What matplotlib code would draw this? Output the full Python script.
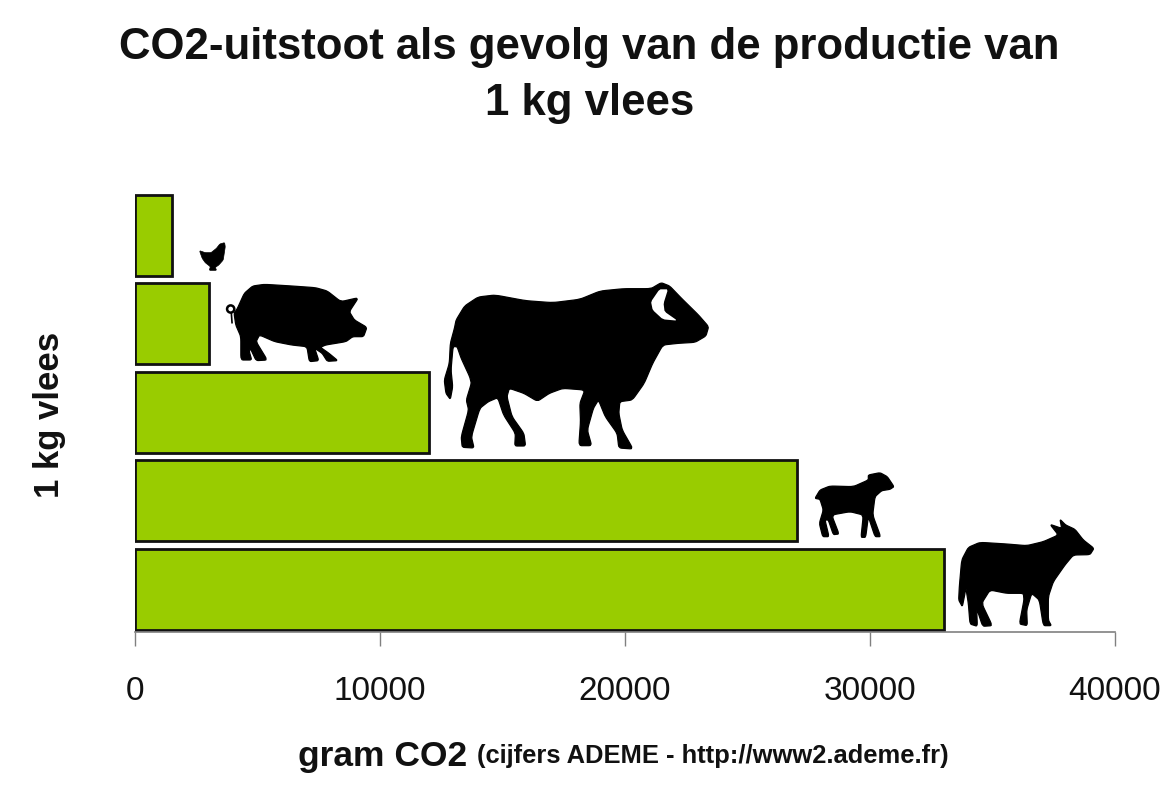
import matplotlib
matplotlib.use('Agg')
import matplotlib.pyplot as plt
from matplotlib.patches import Circle, Polygon
import numpy as np

#Data
waarden = [33000, 27000, 12000, 3000, 1500]  #koe, schaap, rund, varken, kip
xticks = [0, 10000, 20000, 30000, 40000]

W, H = 1171, 790

plt.rcParams['font.family'] = ['Liberation Sans', 'DejaVu Sans']

fig = plt.figure(figsize=(W / 100, H / 100), dpi=100)

    #Bars
ax = fig.add_axes([135 / W, (H - 632) / H, 980 / W, 442 / H])
pitch = 88.5
ax.barh(range(len(waarden)), waarden, height=81 / pitch, color='#99CC00',
        edgecolor='#111111', linewidth=2)
ax.set_xlim(0, 40000)
ax.set_ylim(-42.8 / pitch, 399.2 / pitch)
for s in ['top', 'left', 'right']:
    ax.spines[s].set_visible(False)
ax.spines['bottom'].set_color('#808080')
ax.spines['bottom'].set_linewidth(1.2)
ax.set_yticks([])
ax.set_xticks(xticks)
ax.tick_params(axis='x', length=10, width=1, color='#808080', pad=22,
               labelsize=24, labelcolor='#111111')

    #Overlay in pixels, for the silhouettes
ov = fig.add_axes([0, 0, 1, 1])
ov.set_xlim(0, W)
ov.set_ylim(H, 0)
ov.axis('off')
ov.patch.set_alpha(0)


def smooth(pts, n=2):
    #light corner cutting so the outlines are not too angular
    p = np.array(pts, dtype=float)
    for _ in range(n):
        q = np.roll(p, -1, axis=0)
        p = np.column_stack([0.88 * p + 0.12 * q, 0.12 * p + 0.88 * q]).reshape(-1, 2)
    return p


def shape(pts, ox, oy, sx=3.0, color='black', n=2, lw=0.9):
    p = smooth(pts, n) / [sx, 3.0] + [ox, oy]
    ov.add_patch(Polygon(p, closed=True, fc=color, ec=color, lw=lw, joinstyle='round'))


bull = [(780, 295), (768, 340), (765, 400), (750, 450), (755, 490), (768, 508), (775, 470),
        (770, 420), (776, 350), (788, 350), (800, 385), (825, 440), (830, 460), (815, 510),
        (822, 540), (800, 620), (803, 652), (838, 654), (830, 620), (855, 535), (880, 515),
        (908, 503), (925, 555), (960, 610), (958, 648), (990, 648), (985, 610), (950, 560),
        (935, 500), (942, 475), (985, 490), (1025, 514), (1060, 490), (1100, 475), (1165, 480),
        (1150, 520), (1152, 575), (1147, 647), (1185, 647), (1172, 600), (1190, 535), (1205, 510),
        (1225, 560), (1260, 610), (1265, 654), (1307, 657), (1275, 600), (1265, 550), (1268, 515),
        (1305, 510), (1340, 460), (1365, 400), (1395, 345), (1440, 340), (1490, 337), (1522, 318),
        (1530, 290), (1500, 255), (1450, 205), (1415, 168), (1390, 158), (1360, 176), (1280, 176),
        (1210, 183), (1150, 208), (1070, 218), (990, 212), (900, 195), (850, 201), (810, 228),
        (785, 270)]
horn = [(1385, 178), (1410, 178), (1397, 220), (1400, 245), (1438, 272), (1395, 268),
        (1365, 240), (1360, 215)]
pig = [(140, 235), (160, 190), (185, 168), (220, 163), (300, 168), (370, 173), (405, 183),
       (445, 215), (497, 203), (470, 245), (485, 270), (522, 292), (512, 320), (480, 320),
       (460, 335), (400, 345), (385, 352), (410, 370), (436, 392), (405, 394), (390, 370),
       (368, 355), (380, 392), (352, 395), (345, 350), (300, 345), (250, 335), (205, 315),
       (195, 335), (228, 390), (195, 392), (178, 355), (175, 365), (182, 390), (150, 390),
       (150, 320), (135, 285), (130, 250)]
chicken = [(28, 62), (45, 68), (62, 68), (78, 55), (88, 42), (102, 38), (104, 50), (101, 70),
           (98, 90), (85, 105), (75, 112), (78, 121), (57, 121), (60, 110), (45, 98), (36, 85)]
sheep = [(45, 115), (60, 90), (90, 78), (160, 80), (205, 60), (205, 45), (240, 38), (262, 50),
         (282, 80), (270, 88), (245, 92), (225, 110), (218, 165), (242, 230), (225, 230),
         (205, 170), (197, 232), (183, 232), (190, 165), (150, 155), (95, 165), (117, 222),
         (100, 224), (85, 180), (75, 180), (87, 230), (68, 230), (58, 190), (70, 150), (60, 118)]
cow = [(485, 300), (505, 262), (540, 247), (620, 252), (680, 257), (730, 245), (775, 225),
       (750, 193), (785, 205), (780, 178), (797, 195), (825, 208), (850, 240), (882, 265),
       (870, 284), (820, 285), (795, 315), (760, 365), (745, 410), (745, 480), (754, 497),
       (730, 497), (718, 420), (695, 400), (680, 450), (682, 497), (658, 492), (672, 420),
       (670, 400), (620, 400), (570, 390), (545, 430), (577, 497), (548, 499), (530, 445),
       (532, 499), (510, 492), (505, 430), (497, 380), (495, 400), (487, 440), (476, 420),
       (478, 380)]

shape(bull, 190, 230, sx=2.95)
shape(horn, 190, 230, sx=2.95, color='white', n=1, lw=0)
shape(pig, 190, 230, sx=2.95)
shape(chicken, 190, 230, sx=2.95, n=1, lw=0.5)
ov.add_patch(Circle((190 + 120 / 2.95, 230 + 237 / 3), 3.6, fc='none', ec='black', lw=1.8))
ov.plot([190 + 122 / 2.95, 190 + 124 / 2.95], [230 + 250 / 3, 230 + 278 / 3], color='black', lw=1.2)
shape(sheep, 800, 460)
shape(cow, 800, 460)

    #Text
fig.text(589 / W, 1 - 48 / H, 'CO2-uitstoot als gevolg van de productie van', ha='center', va='center',
         fontsize=31.5, fontweight='bold', color='#111111')
fig.text(590 / W, 1 - 104 / H, '1 kg vlees', ha='center', va='center',
         fontsize=31.5, fontweight='bold', color='#111111')
fig.text(50 / W, 1 - 415 / H, '1 kg vlees', ha='center', va='center', rotation=90,
         fontsize=25, fontweight='bold', color='#111111')
fig.text(298 / W, 1 - 766 / H, 'gram CO2', ha='left', va='baseline',
         fontsize=25.5, fontweight='bold', color='#111111')
fig.text(477 / W, 1 - 763 / H, '(cijfers ADEME - http://www2.ademe.fr)', ha='left', va='baseline',
         fontsize=18.4, fontweight='bold', color='#111111')

fig.savefig('out.png', dpi=100)
